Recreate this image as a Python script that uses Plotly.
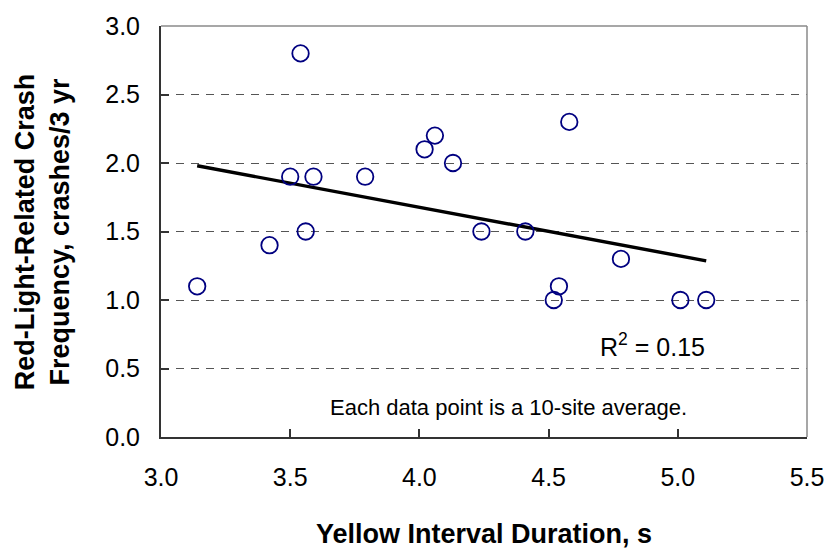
import numpy as np
import plotly.graph_objects as go

# Data (yellow interval duration, s ; crash frequency, crashes/3 yr)
yellow_s = [3.14, 3.42, 3.54, 3.50, 3.56, 3.59, 3.79, 4.02, 4.06, 4.13,
            4.24, 4.41, 4.58, 4.78, 4.54, 4.52, 5.01, 5.11]
crashes = [1.1, 1.4, 2.8, 1.9, 1.5, 1.9, 1.9, 2.1, 2.2, 2.0,
           1.5, 1.5, 2.3, 1.3, 1.1, 1.0, 1.0, 1.0]

x_ticks = [3.0, 3.5, 4.0, 4.5, 5.0, 5.5]
y_ticks = [0.0, 0.5, 1.0, 1.5, 2.0, 2.5, 3.0]

# Linear trend line (least squares)
slope, intercept = np.polyfit(yellow_s, crashes, 1)
trend_x = [min(yellow_s), max(yellow_s)]
trend_y = [slope * v + intercept for v in trend_x]

FONT = "Liberation Sans, Arial, sans-serif"

fig = go.Figure()
fig.add_trace(go.Scatter(
    x=trend_x, y=trend_y, mode="lines",
    line=dict(color="black", width=3.4), hoverinfo="skip", showlegend=False))
fig.add_trace(go.Scatter(
    x=yellow_s, y=crashes, mode="markers",
    marker=dict(symbol="circle-open", size=16.5, color="#000080",
                line=dict(color="#000080", width=1.8)),
    showlegend=False))

fig.update_layout(
    width=836, height=550,
    margin=dict(l=161, r=21, t=17, b=113),
    paper_bgcolor="white", plot_bgcolor="white",
    font=dict(family=FONT, color="black", size=25),
    xaxis=dict(range=[3.0, 5.5], tickvals=x_ticks,
               ticktext=[f"{v:.1f}" for v in x_ticks],
               showgrid=False, zeroline=False,
               showline=True, linecolor="#333333", linewidth=2,
               ticks="inside", ticklen=8, tickwidth=1.5, tickcolor="#333333",
               ticklabelstandoff=17,
               tickfont=dict(size=25, family=FONT, color="black")),
    yaxis=dict(range=[0.0, 3.0], tickvals=y_ticks,
               ticktext=[f"{v:.1f}" for v in y_ticks],
               showgrid=True, gridcolor="#555555", griddash="8px,7px", gridwidth=1,
               zeroline=False,
               showline=True, linecolor="#333333", linewidth=2,
               ticks="inside", ticklen=8, tickwidth=1.5, tickcolor="#333333",
               ticklabelstandoff=14,
               tickfont=dict(size=25, family=FONT, color="black")),
    shapes=[
        dict(type="line", xref="paper", yref="paper", x0=0, x1=1, y0=1, y1=1,
             line=dict(color="#8a8a8a", width=1.5)),
        dict(type="line", xref="paper", yref="paper", x0=1, x1=1, y0=0, y1=1,
             line=dict(color="#8a8a8a", width=1.5)),
    ],
    annotations=[
        dict(text="<b>Yellow Interval Duration, s</b>", xref="paper", yref="paper",
             x=0.5, y=-0.236, xanchor="center", yanchor="middle", showarrow=False,
             font=dict(size=27, family=FONT, color="black")),
        dict(text="<b>Red-Light-Related Crash<br>Frequency, crashes/3 yr</b>",
             xref="paper", yref="paper", x=-0.183, y=0.5, textangle=-90,
             xanchor="center", yanchor="middle", showarrow=False,
             font=dict(size=27, family=FONT, color="black")),
        dict(text="R<sup>2</sup> = 0.15", xref="paper", yref="paper",
             x=0.7615, y=0.2238, xanchor="center", yanchor="middle", showarrow=False,
             font=dict(size=25, family=FONT, color="black")),
        dict(text="Each data point is a 10-site average.", xref="paper", yref="paper",
             x=0.5375, y=0.0714, xanchor="center", yanchor="middle", showarrow=False,
             font=dict(size=22, family=FONT, color="black")),
    ],
)

fig.write_html("out.html")
